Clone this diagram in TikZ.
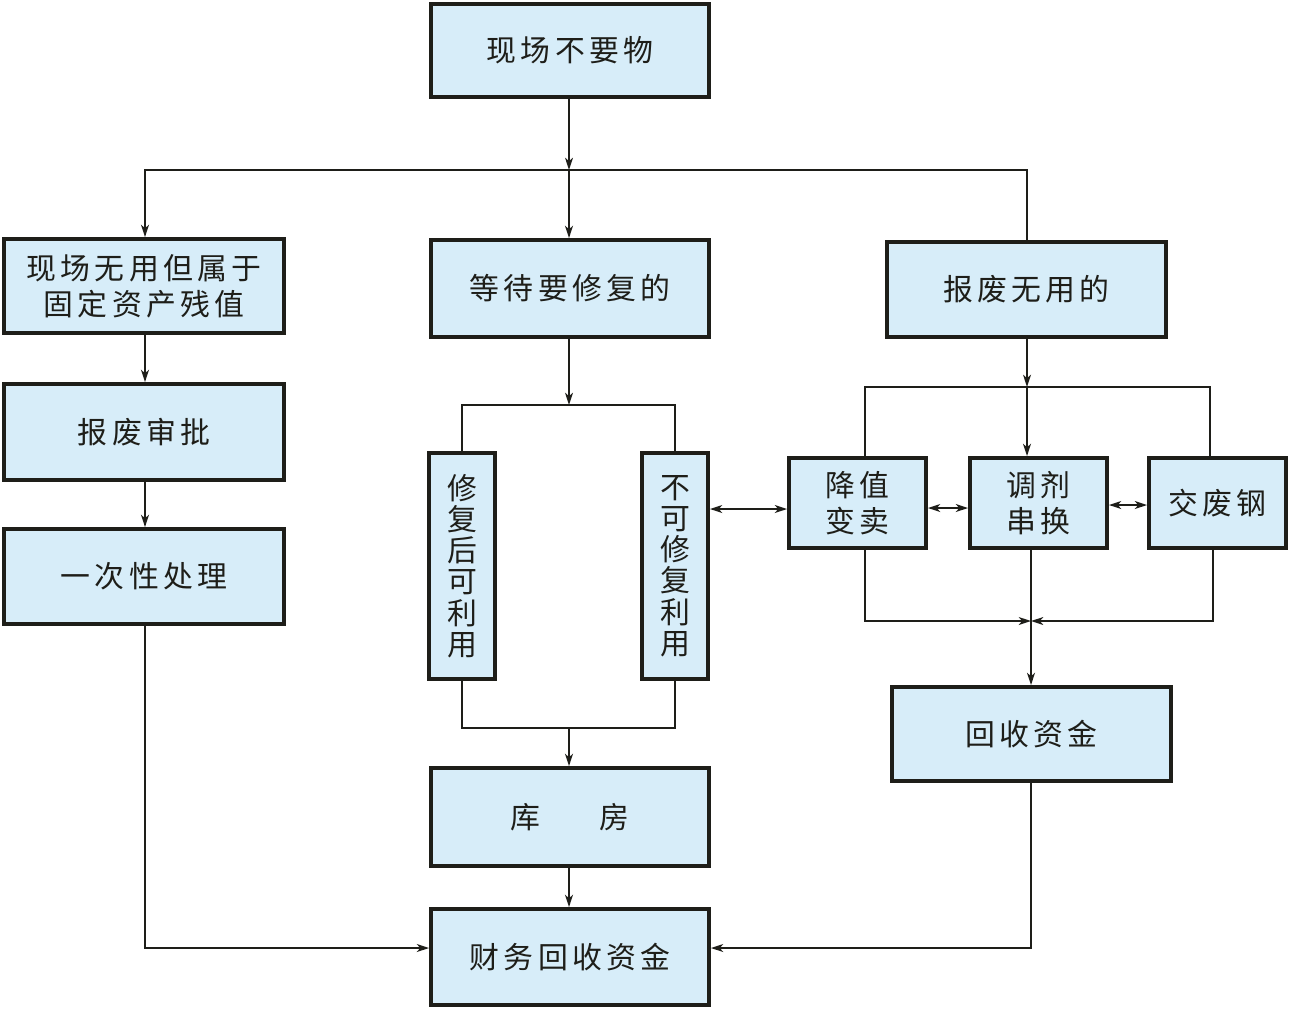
\documentclass[tikz,border=0pt]{standalone}
\usepackage{fontspec}
\setmainfont{Noto Sans CJK SC}[LetterSpace=14]
\newfontfamily\vfont{Noto Sans CJK SC}
\usetikzlibrary{arrows.meta}
\definecolor{boxfill}{RGB}{215,237,249}
\definecolor{ink}{RGB}{30,30,25}
\begin{document}
\begin{tikzpicture}[x=0.02cm,y=-0.02cm,
  box/.style={draw=ink,fill=boxfill,line width=2.2pt,inner sep=0pt,align=center,
     font=\fontsize{17}{20.4}\selectfont,text=ink},
  vbox/.style={box,font=\vfont\fontsize{17}{17.8}\selectfont},
  conn/.style={draw=ink,line width=1pt},
  arr/.style={conn,-{Stealth[length=7pt,width=4.5pt,inset=2pt]}},
  darr/.style={conn,{Stealth[length=7pt,width=4.5pt,inset=2pt]}-{Stealth[length=7pt,width=4.5pt,inset=2pt]}}]
\useasboundingbox (0,0) rectangle (1290,1009);
% boxes
\node[box,minimum width=5.56cm,minimum height=1.86cm] (top) at (570,50.5) {现场不要物};
\node[box,minimum width=5.6cm,minimum height=1.88cm] (fixed) at (144,286) {现场无用但属于\\固定资产残值};
\node[box,minimum width=5.6cm,minimum height=1.92cm] (shenpi) at (144,432) {报废审批};
\node[box,minimum width=5.6cm,minimum height=1.9cm] (once) at (144,576.5) {一次性处理};
\node[box,minimum width=5.56cm,minimum height=1.94cm] (wait) at (570,288.5) {等待要修复的};
\node[box,minimum width=5.58cm,minimum height=1.9cm] (scrap) at (1026.5,289.5) {报废无用的};
\node[vbox,minimum width=1.32cm,minimum height=4.52cm] (rep) at (462,566) {修\\复\\后\\可\\利\\用};
\node[vbox,minimum width=1.32cm,minimum height=4.52cm] (unrep) at (675,566) {不\\可\\修\\复\\利\\用};
\node[box,minimum width=2.74cm,minimum height=1.8cm] (jz) at (857.5,503) {降值\\变卖};
\node[box,minimum width=2.74cm,minimum height=1.8cm] (tj) at (1038.5,503) {调剂\\串换};
\node[box,minimum width=2.74cm,minimum height=1.8cm] (steel) at (1217.5,503) {交废钢};
\node[box,minimum width=5.58cm,minimum height=1.88cm] (hs) at (1031.5,734) {回收资金};
\node[box,minimum width=5.56cm,minimum height=1.96cm] (kf) at (570,817) {库\hspace{2em}房};
\node[box,minimum width=5.56cm,minimum height=1.92cm] (cw) at (570,957) {财务回收资金};
% junctions
\coordinate (j1) at (569,170);
\coordinate (j2) at (569,405);
\coordinate (j3) at (569,728);
\coordinate (j4) at (1027,387);
\coordinate (j5) at (1031,621);
\coordinate (xa) at (865,0);
\coordinate (xb) at (1210,0);
\coordinate (xc) at (1213,0);
\coordinate (xl) at (145,0);
\coordinate (yd) at (0,948);
\coordinate (ya) at (0,509);
\coordinate (yb) at (0,508);
\coordinate (yc) at (0,505);
% connectors
\draw[arr] (j1 |- top.south) -- (j1);
\draw[arr] (j1) -- (j1 |- wait.north);
\draw[arr] (j1) -| (fixed.north -| xl);
\draw[conn] (j1) -| (scrap.north -| j4);
\draw[arr] (fixed.south -| xl) -- (shenpi.north -| xl);
\draw[arr] (shenpi.south -| xl) -- (once.north -| xl);
\draw[arr] (once.south -| xl) |- (cw.west |- yd);
\draw[arr] (j2 |- wait.south) -- (j2);
\draw[conn] (j2) -| (rep.north);
\draw[conn] (j2) -| (unrep.north);
\draw[conn] (rep.south) |- (j3) -| (unrep.south);
\draw[arr] (j3) -- (j3 |- kf.north);
\draw[arr] (j3 |- kf.south) -- (j3 |- cw.north);
\draw[darr] (unrep.east |- ya) -- (jz.west |- ya);
\draw[darr] (jz.east |- yb) -- (tj.west |- yb);
\draw[darr] (tj.east |- yc) -- (steel.west |- yc);
\draw[arr] (j4 |- scrap.south) -- (j4);
\draw[arr] (j4) -- (j4 |- tj.north);
\draw[conn] (j4) -| (jz.north -| xa);
\draw[conn] (j4) -| (steel.north -| xb);
\draw[arr] (jz.south -| xa) |- (j5);
\draw[arr] (steel.south -| xc) |- (j5);
\draw[arr] (j5 |- tj.south) -- (j5 |- hs.north);
\draw[arr] (j5 |- hs.south) |- (cw.east |- yd);
\end{tikzpicture}
\end{document}
